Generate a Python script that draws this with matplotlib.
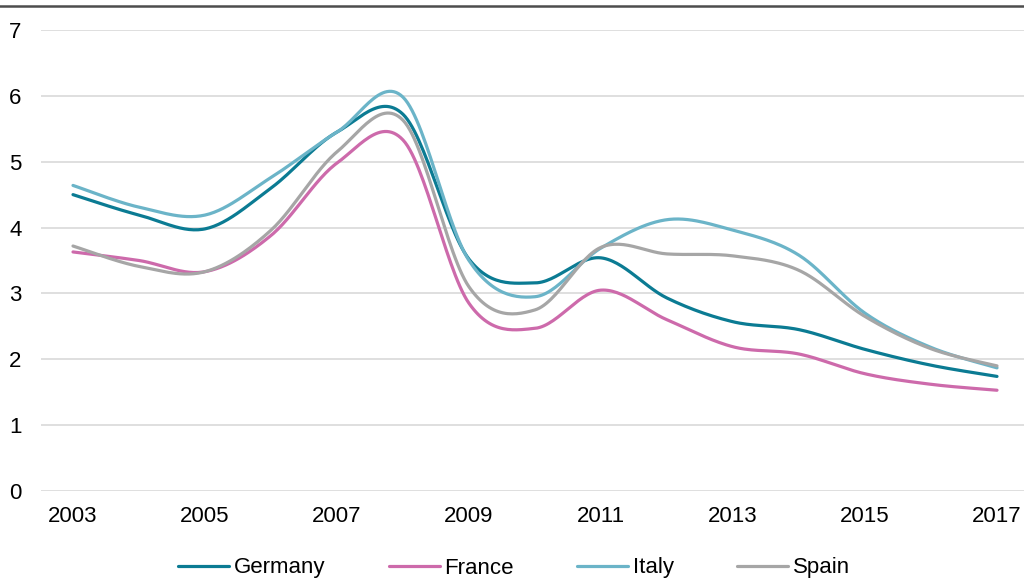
import matplotlib

matplotlib.use("Agg")
import matplotlib.pyplot as plt
import numpy as np
from matplotlib.lines import Line2D

plt.rcParams["font.family"] = ["Liberation Sans", "DejaVu Sans"]

years = list(range(2003, 2018))
germany = [4.50, 4.19, 3.98, 4.60, 5.45, 5.72, 3.52, 3.16, 3.54, 2.93, 2.57, 2.45, 2.15, 1.91, 1.74]
france = [3.63, 3.50, 3.33, 3.88, 4.98, 5.33, 2.85, 2.47, 3.05, 2.60, 2.19, 2.08, 1.78, 1.62, 1.53]
italy = [4.64, 4.31, 4.19, 4.76, 5.45, 5.98, 3.50, 2.95, 3.69, 4.12, 3.96, 3.58, 2.70, 2.18, 1.87]
spain = [3.72, 3.41, 3.33, 3.96, 5.15, 5.63, 3.10, 2.75, 3.70, 3.60, 3.57, 3.35, 2.65, 2.16, 1.90]

series = [
    ("Germany", germany, "#0b7b93"),
    ("France", france, "#cd6aab"),
    ("Italy", italy, "#6bb4c8"),
    ("Spain", spain, "#a6a6a6"),
]


def smooth(x, y, steps=30):
    # Excel-style smoothed line: cubic Bezier with Catmull-Rom tangents
    x = np.asarray(x, dtype=float)
    y = np.asarray(y, dtype=float)
    pts = np.column_stack([x, y])
    padded = np.vstack([pts[0], pts, pts[-1]])
    t = np.linspace(0, 1, steps)[:, None]
    out = []
    for i in range(len(pts) - 1):
        p0 = padded[i + 1]
        p3 = padded[i + 2]
        c1 = p0 + (padded[i + 2] - padded[i]) / 6
        c2 = p3 - (padded[i + 3] - padded[i + 1]) / 6
        seg = (1 - t) ** 3 * p0 + 3 * (1 - t) ** 2 * t * c1 + 3 * (1 - t) * t**2 * c2 + t**3 * p3
        out.append(seg if i == 0 else seg[1:])
    out = np.vstack(out)
    return out[:, 0], out[:, 1]


fig = plt.figure(figsize=(10.24, 5.83), dpi=100)
ax = fig.add_axes([41 / 1024, 92 / 583, 983 / 1024, 461 / 583])

for name, values, color in series:
    sx, sy = smooth(years, values)
    ax.plot(sx, sy, color=color, lw=2.3, label=name, solid_capstyle="round", zorder=3)

ax.set_xlim(2003 - 32 / 66, 2017 + 27 / 66)
ax.set_ylim(0, 7)
ax.set_xticks(years[::2])
ax.set_yticks(range(0, 8))
ax.grid(axis="y", color="#d9d9d9", lw=1.2, zorder=0)
ax.set_axisbelow(True)
for side in ax.spines.values():
    side.set_visible(False)
ax.tick_params(axis="both", length=0, labelsize=16, colors="black")
ax.tick_params(axis="y", pad=14)
ax.tick_params(axis="x", pad=11)

fig.add_artist(Line2D([0, 1], [1 - 6 / 583, 1 - 6 / 583], color="#4d4d4d", lw=1.8, transform=fig.transFigure))

fig.legend(
    loc="center",
    bbox_to_anchor=(0.502, 1 - 568 / 583),
    ncol=4,
    frameon=False,
    fontsize=16,
    handlelength=2.3,
    handletextpad=0.2,
    columnspacing=2.85,
)

fig.savefig("out.png", dpi=100, facecolor="white")
